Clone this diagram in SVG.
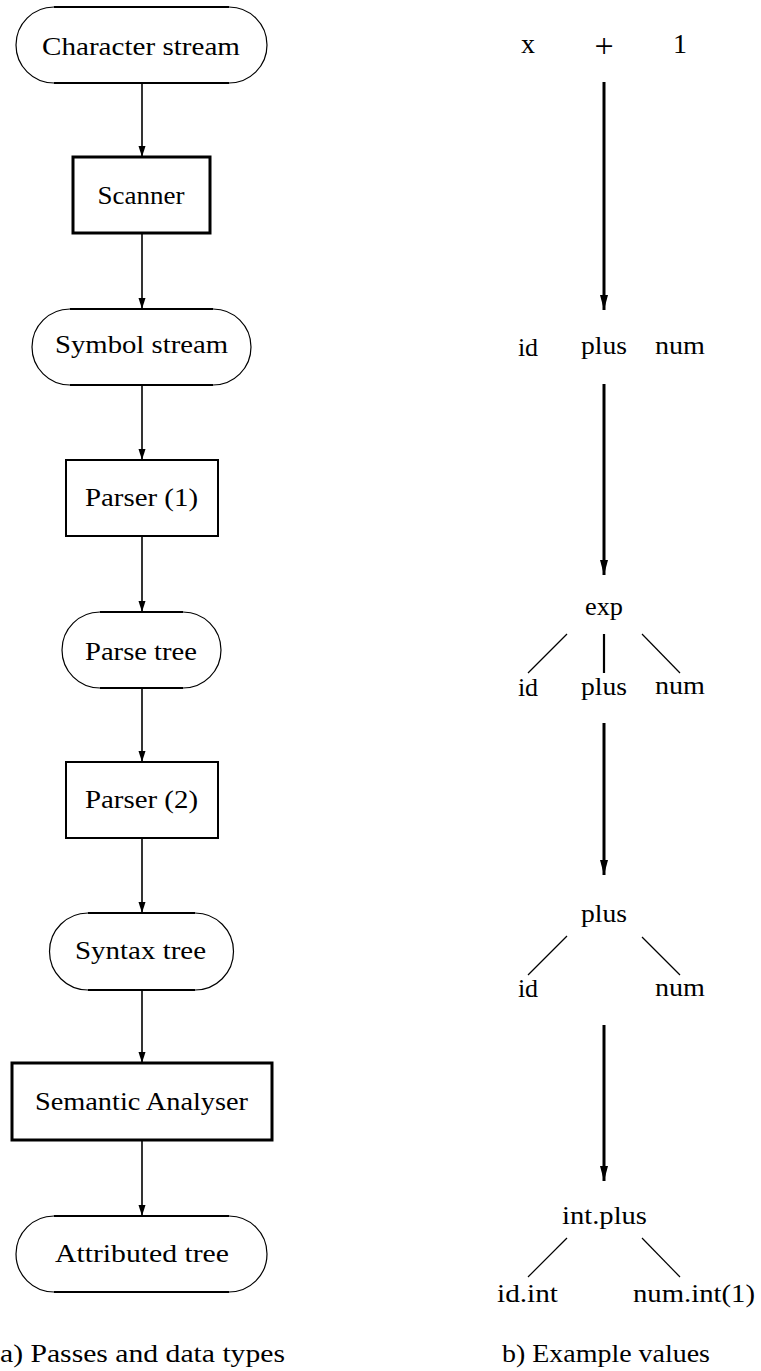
<svg xmlns="http://www.w3.org/2000/svg" width="761" height="1371" viewBox="0 0 761 1371" font-family="'Liberation Serif', 'DejaVu Serif', 'Times New Roman', Times, serif">
<style>
text{font-family:'Liberation Serif','DejaVu Serif','Times New Roman',Times,serif;font-size:26px;fill:#000;text-anchor:middle}
.arc{fill:none;stroke:#000;stroke-width:1.2}
.flat{stroke:#000;stroke-width:2.2}
.box{fill:#fff;stroke:#000;stroke-width:2}
.boxb{fill:#fff;stroke:#000;stroke-width:3}
.la{stroke:#000;stroke-width:1.6;fill:none;marker-end:url(#ah)}
.ra{stroke:#000;stroke-width:3;fill:none;marker-end:url(#ahb)}
.tl{stroke:#000;stroke-width:1.2}
.tv{stroke:#000;stroke-width:2.2}
.cap{text-anchor:start}
.big{font-size:28px}
.plus{font-size:34px}
</style>
<defs>
<marker id="ah" markerUnits="userSpaceOnUse" markerWidth="11" markerHeight="8" refX="11" refY="4" orient="auto">
<path d="M0,0.5 L11,4 L0,7.5 z" fill="#000"/>
</marker>
<marker id="ahb" markerUnits="userSpaceOnUse" markerWidth="15" markerHeight="8" refX="15" refY="4" orient="auto">
<path d="M0,0 L15,4 L0,8 z" fill="#000"/>
</marker>
</defs>

<g id="connectors">
<line class="la" x1="142" y1="83" x2="142" y2="157"/>
<line class="la" x1="142" y1="233" x2="142" y2="309"/>
<line class="la" x1="142" y1="385" x2="142" y2="460"/>
<line class="la" x1="142" y1="536" x2="142" y2="612"/>
<line class="la" x1="142" y1="688" x2="142" y2="762"/>
<line class="la" x1="142" y1="838" x2="142" y2="913"/>
<line class="la" x1="142" y1="990" x2="142" y2="1063"/>
<line class="la" x1="142" y1="1140" x2="142" y2="1216"/>
<line class="ra" x1="604" y1="82" x2="604" y2="310"/>
<line class="ra" x1="604" y1="384" x2="604" y2="575"/>
<line class="ra" x1="604" y1="723" x2="604" y2="875"/>
<line class="ra" x1="604" y1="1025" x2="604" y2="1181"/>
<line class="tl" x1="567" y1="634" x2="528" y2="673"/>
<line class="tv" x1="604" y1="634" x2="604" y2="673"/>
<line class="tl" x1="642" y1="634" x2="680" y2="673"/>
<line class="tl" x1="567" y1="936" x2="528" y2="975"/>
<line class="tl" x1="642" y1="937" x2="680" y2="975"/>
<line class="tl" x1="567" y1="1238" x2="528" y2="1277"/>
<line class="tl" x1="642" y1="1238" x2="680" y2="1277"/>
</g>

<g id="n-character-stream">
<path class="arc" d="M54,7 A38,38 0 0 0 54,83 M229,7 A38,38 0 0 1 229,83"/>
<line class="flat" x1="54" y1="7" x2="229" y2="7"/><line class="flat" x1="54" y1="83" x2="229" y2="83"/>
<text x="141" y="55" textLength="198" lengthAdjust="spacingAndGlyphs">Character stream</text>
</g>
<g id="n-scanner">
<rect class="boxb" x="73" y="157" width="137" height="76"/>
<text x="141" y="204" textLength="87" lengthAdjust="spacingAndGlyphs">Scanner</text>
</g>
<g id="n-symbol-stream">
<path class="arc" d="M70,309 A38,38 0 0 0 70,385 M213,309 A38,38 0 0 1 213,385"/>
<line class="flat" x1="70" y1="309" x2="213" y2="309"/><line class="flat" x1="70" y1="385" x2="213" y2="385"/>
<text x="141.5" y="353" textLength="173" lengthAdjust="spacingAndGlyphs">Symbol stream</text>
</g>
<g id="n-parser1">
<rect class="box" x="66" y="460" width="152" height="76"/>
<text x="141.5" y="506" textLength="113" lengthAdjust="spacingAndGlyphs">Parser (1)</text>
</g>
<g id="n-parse-tree">
<path class="arc" d="M100,612 A38,38 0 0 0 100,688 M183,612 A38,38 0 0 1 183,688"/>
<line class="flat" x1="100" y1="612" x2="183" y2="612"/><line class="flat" x1="100" y1="688" x2="183" y2="688"/>
<text x="141" y="660" textLength="112" lengthAdjust="spacingAndGlyphs">Parse tree</text>
</g>
<g id="n-parser2">
<rect class="box" x="66" y="762" width="152" height="76"/>
<text x="141.5" y="808" textLength="113" lengthAdjust="spacingAndGlyphs">Parser (2)</text>
</g>
<g id="n-syntax-tree">
<path class="arc" d="M88,913 A38.5,38.5 0 0 0 88,990 M195,913 A38.5,38.5 0 0 1 195,990"/>
<line class="flat" x1="88" y1="913" x2="195" y2="913"/><line class="flat" x1="88" y1="990" x2="195" y2="990"/>
<text x="140.5" y="959" textLength="131" lengthAdjust="spacingAndGlyphs">Syntax tree</text>
</g>
<g id="n-semantic-analyser">
<rect class="boxb" x="12" y="1063" width="260" height="77"/>
<text x="141.5" y="1110" textLength="213" lengthAdjust="spacingAndGlyphs">Semantic Analyser</text>
</g>
<g id="n-attributed-tree">
<path class="arc" d="M54,1216 A38,38 0 0 0 54,1292 M229,1216 A38,38 0 0 1 229,1292"/>
<line class="flat" x1="54" y1="1216" x2="229" y2="1216"/><line class="flat" x1="54" y1="1292" x2="229" y2="1292"/>
<text x="142" y="1262" textLength="174" lengthAdjust="spacingAndGlyphs">Attributed tree</text>
</g>
<g id="caption-a">
<text class="cap" x="0" y="1362" textLength="285" lengthAdjust="spacingAndGlyphs">a) Passes and data types</text>
</g>

<g id="v-row1">
<text class="big" x="528" y="53">x</text>
<text class="plus" x="604" y="57">+</text>
<text class="big" x="680" y="53">1</text>
</g>
<g id="v-row2">
<text x="528" y="356">id</text>
<text x="604" y="354" textLength="46" lengthAdjust="spacingAndGlyphs">plus</text>
<text x="680" y="354" textLength="50" lengthAdjust="spacingAndGlyphs">num</text>
</g>
<g id="v-tree1">
<text x="604" y="615" textLength="38" lengthAdjust="spacingAndGlyphs">exp</text>
<text x="528" y="696">id</text>
<text x="604" y="695" textLength="46" lengthAdjust="spacingAndGlyphs">plus</text>
<text x="680" y="694" textLength="50" lengthAdjust="spacingAndGlyphs">num</text>
</g>
<g id="v-tree2">
<text x="604" y="922" textLength="46" lengthAdjust="spacingAndGlyphs">plus</text>
<text x="528" y="997">id</text>
<text x="680" y="996" textLength="50" lengthAdjust="spacingAndGlyphs">num</text>
</g>
<g id="v-tree3">
<text x="604.5" y="1224" textLength="85" lengthAdjust="spacingAndGlyphs">int.plus</text>
<text x="527.5" y="1302" textLength="61" lengthAdjust="spacingAndGlyphs">id.int</text>
<text x="694" y="1302" textLength="122" lengthAdjust="spacingAndGlyphs">num.int(1)</text>
</g>
<g id="caption-b">
<text class="cap" x="502" y="1362" textLength="208" lengthAdjust="spacingAndGlyphs">b) Example values</text>
</g>
</svg>
